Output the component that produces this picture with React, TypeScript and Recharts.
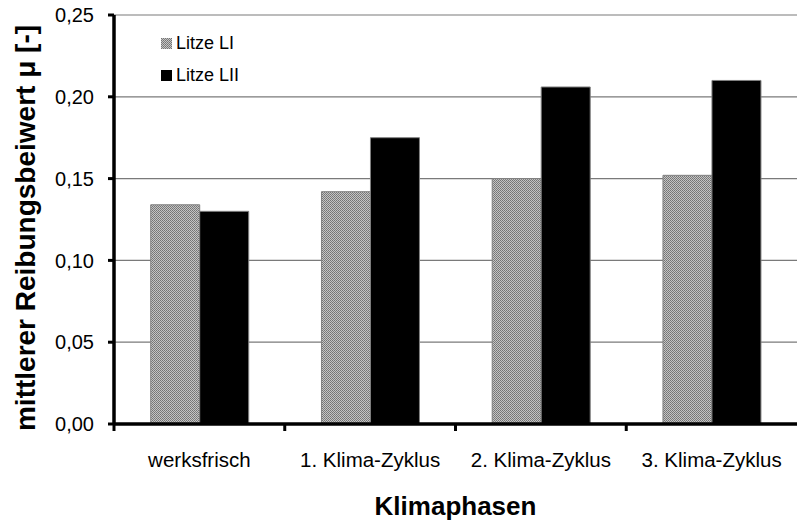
import {
  Bar,
  BarChart,
  CartesianGrid,
  Legend,
  XAxis,
  YAxis
} from "recharts";

const phases = ["werksfrisch", "1. Klima-Zyklus", "2. Klima-Zyklus", "3. Klima-Zyklus"];
const litzeL1 = [0.134, 0.142, 0.15, 0.152];
const litzeL2 = [0.13, 0.175, 0.206, 0.21];
const yTicks = [0, 0.05, 0.1, 0.15, 0.2, 0.25];

const data = phases.map((phase, i) => ({
  phase,
  l1: litzeL1[i],
  l2: litzeL2[i]
}));

const W = 798;
const H = 524;
const PLOT_LEFT = 114;
const PLOT_RIGHT = W - 1;
const PLOT_BOTTOM = 424;
const BAND = (PLOT_RIGHT - PLOT_LEFT) / phases.length;
const FONT = "'Liberation Sans', Arial, sans-serif";

const fmt = (v: number) => v.toFixed(2).replace(".", ",");

// dithered grey used for the first strand
const DotPattern = ({ id }: { id: string }) => (
  <pattern id={id} width={2} height={2} patternUnits="userSpaceOnUse">
    <rect width={2} height={2} fill="#c4c4c4" />
    <rect width={1} height={1} fill="#747474" />
    <rect x={1} y={1} width={1} height={1} fill="#7e7e7e" />
  </pattern>
);

// category label centred in the band, tick mark on the band's left edge
const PhaseTick = (props: any) => {
  const { x, payload } = props;
  const edge = x - BAND / 2;
  return (
    <g>
      <line x1={edge} x2={edge} y1={PLOT_BOTTOM} y2={PLOT_BOTTOM + 7} stroke="#000" strokeWidth={3} />
      <text x={x} y={PLOT_BOTTOM + 43} textAnchor="middle" fontSize={20.5} fontFamily={FONT} fill="#000">
        {payload.value}
      </text>
    </g>
  );
};

const LegendBox = () => (
  <div style={{ fontFamily: FONT, fontSize: 18, color: "#000", lineHeight: "32px" }}>
    {[
      { name: "Litze LI", fill: "url(#dotsLegend)" },
      { name: "Litze LII", fill: "#000" }
    ].map((item) => (
      <div key={item.name} style={{ display: "flex", alignItems: "center" }}>
        <svg width={11} height={11} style={{ marginRight: 4 }}>
          <defs>
            <DotPattern id="dotsLegend" />
          </defs>
          <rect width={11} height={11} fill={item.fill} />
        </svg>
        {item.name}
      </div>
    ))}
  </div>
);

export default function App() {
  return (
    <div style={{ position: "absolute", left: 0, top: 0, background: "#fff" }}>
      <BarChart
        width={W}
        height={H}
        data={data}
        margin={{ top: 15, right: W - PLOT_RIGHT, left: 0, bottom: 0 }}
        barGap={0}
        barCategoryGap="21.5%"
      >
        <defs>
          <DotPattern id="dots" />
        </defs>
        <CartesianGrid vertical={false} stroke="#7a7a7a" strokeWidth={1.2} />
        <XAxis
          dataKey="phase"
          height={H - PLOT_BOTTOM}
          axisLine={{ stroke: "#000", strokeWidth: 3.5 }}
          tickLine={false}
          tick={<PhaseTick />}
          interval={0}
          label={(p: any) => (
            <text x={(PLOT_LEFT + PLOT_RIGHT) / 2} y={515} textAnchor="middle" fontSize={26} fontWeight="bold" fontFamily={FONT} fill="#000">
              Klimaphasen
            </text>
          )}
        />
        <YAxis
          width={PLOT_LEFT}
          domain={[0, 0.25]}
          ticks={yTicks}
          tickFormatter={fmt}
          axisLine={{ stroke: "#000", strokeWidth: 3.5 }}
          tickLine={{ stroke: "#000", strokeWidth: 3 }}
          tickSize={6}
          tickMargin={14}
          tick={{ fill: "#000", fontSize: 20, fontFamily: FONT }}
          label={(p: any) => (
            <text x={25} y={228} transform="rotate(-90, 25, 228)" textAnchor="middle" dominantBaseline="central" fontSize={28} fontWeight="bold" fontFamily={FONT} fill="#000">
              mittlerer Reibungsbeiwert μ [-]
            </text>
          )}
        />
        <Legend
          layout="vertical"
          align="center"
          verticalAlign="middle"
          content={<LegendBox />}
          wrapperStyle={{ left: 161, top: 27, width: 120 }}
        />
        <Bar dataKey="l1" name="Litze LI" fill="url(#dots)" stroke="#808080" strokeWidth={1} isAnimationActive={false} />
        <Bar dataKey="l2" name="Litze LII" fill="#000" stroke="#808080" strokeWidth={1} isAnimationActive={false} />
      </BarChart>
    </div>
  );
}
